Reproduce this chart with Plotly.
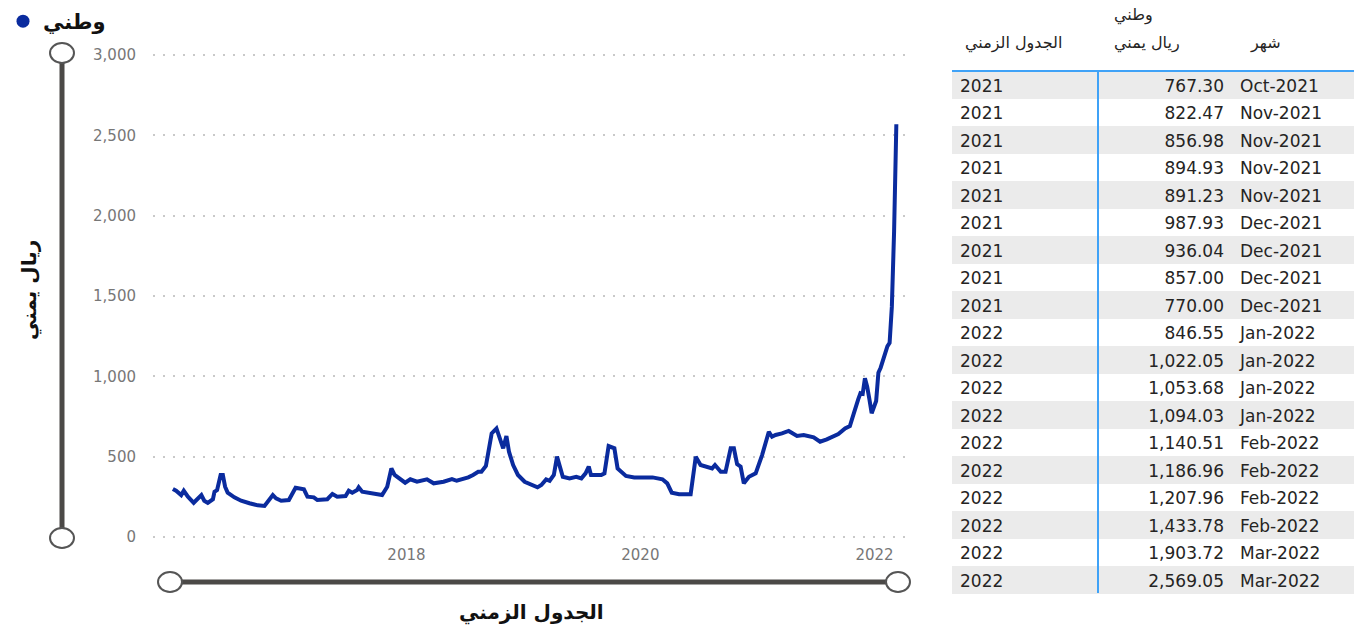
import plotly.graph_objects as go

# ---------------- data ----------------
series_name = "وطني"
y_title = "ريال يمني"
x_title = "الجدول الزمني"

trend_dates = [
    "2016-01-03", "2016-01-13", "2016-01-29", "2016-02-06", "2016-02-19", "2016-03-08", "2016-04-01",
    "2016-04-10", "2016-04-21", "2016-05-07", "2016-05-12", "2016-05-20", "2016-05-31", "2016-06-07",
    "2016-06-14", "2016-06-22", "2016-07-13", "2016-08-03", "2016-08-29", "2016-09-24", "2016-10-15",
    "2016-10-25", "2016-11-10", "2016-11-20", "2016-12-06", "2016-12-30", "2017-01-15", "2017-01-20",
    "2017-02-15", "2017-02-26", "2017-03-18", "2017-03-29", "2017-04-29", "2017-05-15", "2017-05-30",
    "2017-06-25", "2017-07-05", "2017-07-16", "2017-07-31", "2017-08-05", "2017-08-16", "2017-09-01",
    "2017-09-26", "2017-10-17", "2017-11-02", "2017-11-15", "2017-11-25", "2017-12-08", "2017-12-28",
    "2018-01-13", "2018-02-03", "2018-03-06", "2018-03-27", "2018-04-27", "2018-05-23", "2018-06-07",
    "2018-06-23", "2018-07-13", "2018-07-28", "2018-08-13", "2018-08-23", "2018-09-06", "2018-09-13",
    "2018-09-24", "2018-10-09", "2018-10-19", "2018-10-30", "2018-11-09", "2018-11-17", "2018-11-30",
    "2018-12-15", "2019-01-05", "2019-01-26", "2019-02-14", "2019-02-26", "2019-03-13", "2019-03-24",
    "2019-04-06", "2019-04-16", "2019-05-04", "2019-05-25", "2019-06-15", "2019-07-01", "2019-07-14",
    "2019-07-24", "2019-07-31", "2019-09-01", "2019-09-11", "2019-09-24", "2019-10-12", "2019-10-22",
    "2019-11-17", "2019-12-13", "2020-01-08", "2020-02-08", "2020-03-10", "2020-03-25", "2020-04-08",
    "2020-05-01", "2020-06-06", "2020-06-22", "2020-07-07", "2020-07-28", "2020-08-12", "2020-08-21",
    "2020-09-08", "2020-09-23", "2020-10-09", "2020-10-19", "2020-10-29", "2020-11-09", "2020-11-19",
    "2020-12-05", "2020-12-26", "2021-01-15", "2021-02-05", "2021-02-15", "2021-02-26", "2021-03-18",
    "2021-04-08", "2021-05-04", "2021-05-25", "2021-06-25", "2021-07-15", "2021-08-05", "2021-08-21",
    "2021-09-10", "2021-10-01", "2021-10-16",
]
trend_values = [
    299, 288, 261, 288, 251, 213, 261,
    226, 213, 235, 282, 292, 386, 386,
    313, 276, 247, 226, 210, 197, 193,
    220, 261, 241, 226, 230, 292, 307,
    297, 251, 247, 230, 235, 268, 251,
    255, 288, 276, 292, 309, 282, 276,
    272, 261, 313, 427, 386, 365, 338,
    359, 344, 359, 334, 344, 361, 350,
    359, 371, 386, 406, 406, 442, 521,
    645, 676, 614, 552, 629, 531, 448,
    386, 344, 324, 309, 324, 359, 350,
    386, 500, 375, 365, 375, 365, 396,
    438, 386, 386, 396, 566, 552, 427,
    380, 371, 371, 371, 359, 334, 276,
    266, 266, 500, 448, 438, 427, 448,
    406, 406, 552, 552, 454, 438, 334,
    375, 396, 510, 655, 624, 635, 645,
    660, 629, 635, 620, 593, 608, 620,
    641, 676, 691,
]

table_dates = [
    "2021-10-28", "2021-11-04", "2021-11-11", "2021-11-18", "2021-11-25",
    "2021-12-02", "2021-12-09", "2021-12-16", "2021-12-23",
    "2022-01-06", "2022-01-13", "2022-01-20", "2022-01-27",
    "2022-02-03", "2022-02-10", "2022-02-17", "2022-02-24",
    "2022-03-03", "2022-03-10",
]
table_year = ["2021"] * 9 + ["2022"] * 10
table_values = [767.30, 822.47, 856.98, 894.93, 891.23, 987.93, 936.04, 857.00, 770.00,
                846.55, 1022.05, 1053.68, 1094.03, 1140.51, 1186.96, 1207.96, 1433.78,
                1903.72, 2569.05]
table_month = ["Oct-2021", "Nov-2021", "Nov-2021", "Nov-2021", "Nov-2021",
               "Dec-2021", "Dec-2021", "Dec-2021", "Dec-2021",
               "Jan-2022", "Jan-2022", "Jan-2022", "Jan-2022",
               "Feb-2022", "Feb-2022", "Feb-2022", "Feb-2022",
               "Mar-2022", "Mar-2022"]
header_year = "الجدول الزمني"
header_value_top = "وطني"
header_value = "ريال يمني"
header_month = "شهر"

y_ticks = [0, 500, 1000, 1500, 2000, 2500, 3000]
x_tick_dates = ["2018-01-01", "2020-01-01", "2022-01-01"]
x_tick_labels = ["2018", "2020", "2022"]

# ---------------- styling ----------------
W, H = 1359, 633
LINE = "#0a2b9e"
BAR = "#4b4947"
AR_FONT = "DejaVu Sans"
TXT = "#252423"


def px(x):
    return x / W


def py(y):
    return 1 - y / H


all_dates = trend_dates + table_dates
all_values = trend_values + table_values

fig = go.Figure()
fig.add_trace(go.Scatter(
    x=all_dates, y=all_values, mode="lines",
    line=dict(color=LINE, width=4), showlegend=False, hoverinfo="skip",
))
fig.add_trace(go.Scatter(
    x=[None], y=[None], mode="markers", name=series_name,
    marker=dict(color=LINE, size=13), showlegend=True,
))

row_fill = ["#ebebeb" if i % 2 == 0 else "#ffffff" for i in range(len(table_values))]
fig.add_trace(go.Table(
    domain=dict(x=[px(952), px(1354)], y=[py(605), 1]),
    columnwidth=[146, 134, 122],
    header=dict(
        values=["", "", ""],
        fill_color="white", line=dict(color="white", width=0),
        height=71,
        font=dict(family=AR_FONT, size=15, color=TXT),
    ),
    cells=dict(
        values=[table_year, [f"{v:,.2f}" for v in table_values], table_month],
        align=["left", "right", "left"],
        fill_color=[row_fill] * 3,
        line=dict(color=[row_fill] * 3, width=0),
        height=27.5,
        font=dict(family=AR_FONT, size=17, color=TXT),
    ),
))

shapes = [
    # table blue rules
    dict(type="line", xref="paper", yref="paper", x0=px(952), x1=px(1354), y0=py(71), y1=py(71),
         line=dict(color="#3fa2f7", width=2)),
    dict(type="line", xref="paper", yref="paper", x0=px(1098), x1=px(1098), y0=py(71), y1=py(593),
         line=dict(color="#3fa2f7", width=2)),
    # vertical slider
    dict(type="line", xref="paper", yref="paper", x0=px(62), x1=px(62), y0=py(53), y1=py(538),
         line=dict(color=BAR, width=5)),
    # horizontal slider
    dict(type="line", xref="paper", yref="paper", x0=px(170), x1=px(898), y0=py(582), y1=py(582),
         line=dict(color=BAR, width=5)),
]
for cx, cy in [(62, 53), (62, 538), (170, 582), (898, 582)]:
    shapes.append(dict(type="circle", xref="paper", yref="paper",
                       x0=px(cx - 12), x1=px(cx + 12), y0=py(cy + 10), y1=py(cy - 10),
                       fillcolor="white", line=dict(color="#555555", width=2), layer="above"))

hdr_font = dict(family=AR_FONT, size=16, color=TXT)
annotations = [
    dict(text=y_title, xref="paper", yref="paper", x=px(30), y=py(290), textangle=-90,
         xanchor="center", yanchor="middle",
         showarrow=False, font=dict(family=AR_FONT, size=20, color="#111111", weight="bold")),
    dict(text=x_title, xref="paper", yref="paper", x=px(531), y=py(612),
         xanchor="center", yanchor="middle",
         showarrow=False, font=dict(family=AR_FONT, size=20, color="#111111", weight="bold")),
    dict(text=header_year, xref="paper", yref="paper", x=px(963), y=py(43),
         xanchor="left", yanchor="middle", showarrow=False, font=hdr_font),
    dict(text=header_value_top, xref="paper", yref="paper", x=px(1112), y=py(15),
         xanchor="left", yanchor="middle", showarrow=False, font=hdr_font),
    dict(text=header_value, xref="paper", yref="paper", x=px(1112), y=py(43),
         xanchor="left", yanchor="middle", showarrow=False, font=hdr_font),
    dict(text=header_month, xref="paper", yref="paper", x=px(1265), y=py(43),
         xanchor="center", yanchor="middle", showarrow=False, font=hdr_font),
]

fig.update_layout(
    width=W, height=H,
    margin=dict(l=0, r=0, t=0, b=0, autoexpand=False),
    paper_bgcolor="white", plot_bgcolor="white",
    shapes=shapes, annotations=annotations,
    legend=dict(x=px(3), y=py(1), xanchor="left", yanchor="top",
                font=dict(family=AR_FONT, size=21, color="#111111", weight="bold"),
                bgcolor="rgba(0,0,0,0)"),
    xaxis=dict(
        domain=[px(153), px(913)], type="date", automargin=False,
        range=["2015-11-02", "2022-05-01"],
        tickvals=x_tick_dates, ticktext=x_tick_labels,
        showgrid=False, zeroline=False, showline=False, ticks="",
        ticklabelstandoff=5,
        tickfont=dict(family=AR_FONT, size=15, color="#777777"),
        fixedrange=True,
    ),
    yaxis=dict(
        domain=[py(539), py(53)], range=[-12.4, 3012.4], automargin=False,
        tickvals=y_ticks, ticktext=[f"{v:,}" for v in y_ticks],
        showgrid=True, gridcolor="#c9c9c9", gridwidth=1.5, griddash="2px,8px",
        zeroline=False, showline=False, ticks="",
        ticklabelstandoff=16,
        tickfont=dict(family=AR_FONT, size=15, color="#777777"),
        fixedrange=True,
    ),
    hovermode=False,
)

fig.write_html("out.html", config={"displayModeBar": False},
               post_script="document.body.style.margin='0';")
